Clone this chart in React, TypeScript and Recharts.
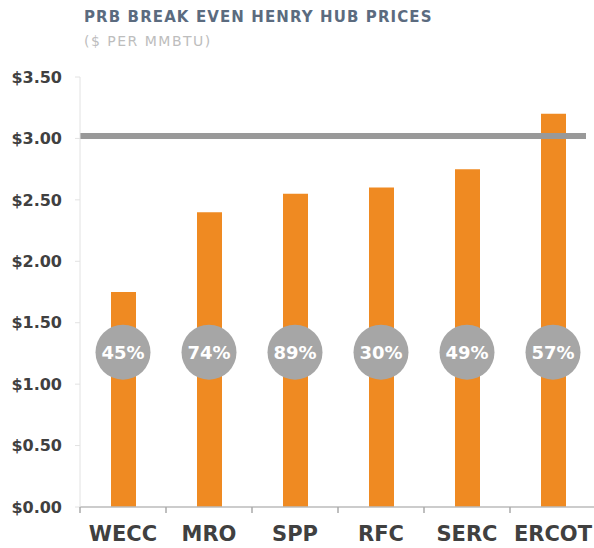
import React from 'react';
import { ComposedChart, Bar, Scatter, XAxis, YAxis, ReferenceLine } from 'recharts';

const regions = ['WECC', 'MRO', 'SPP', 'RFC', 'SERC', 'ERCOT'];
const breakEven = [1.75, 2.4, 2.55, 2.6, 2.75, 3.2];
const shares = ['45%', '74%', '89%', '30%', '49%', '57%'];
const yTicks = [0, 0.5, 1, 1.5, 2, 2.5, 3, 3.5];
const henryHub = 3.02;
const bubbleLevel = 1.26;

const data = regions.map((name, i) => ({
    name,
    price: breakEven[i],
    bubble: bubbleLevel,
    share: shares[i],
}));

const FONT = '"DejaVu Sans", sans-serif';

const RegionTick = (props: any) => {
    const { x, y, payload, index } = props;
    const half = payload?.offset ?? 43;
    return (
        <g>
            <line x1={x - half} x2={x - half} y1={y} y2={y + 6} stroke="#aaaaaa" strokeWidth={1.5} />
            {index === regions.length - 1 && (
                <line x1={x + half} x2={x + half} y1={y} y2={y + 6} stroke="#aaaaaa" strokeWidth={1.5} />
            )}
            <text x={x} y={y + 34} textAnchor="middle" fontFamily={FONT} fontWeight={700} fontSize={21} fill="#404040">
                {payload.value}
            </text>
        </g>
    );
};

const Bubble = (props: any) => {
    const { cx, cy, payload } = props;
    return (
        <g>
            <circle cx={cx} cy={cy} r={27.5} fill="#a6a6a6" />
            <text x={cx} y={cy} dy={6.5} textAnchor="middle" fontFamily={FONT} fontWeight={700} fontSize={18} fill="#ffffff">
                {payload.share}
            </text>
        </g>
    );
};

// the benchmark bar stops a little short of the plot's right edge
const HubLine = (props: any) => (
    <line x1={props.x1} y1={props.y1} x2={props.x2 - 10} y2={props.y2} stroke="#999999" strokeWidth={6} />
);

export default function App() {
    return (
        <div style={{ position: 'absolute', left: 0, top: 0, width: 594, height: 548, overflow: 'hidden', background: '#fff' }}>
            <div style={{ position: 'absolute', left: 84, top: 10, fontFamily: FONT, fontWeight: 700, fontSize: 15, lineHeight: '15px', letterSpacing: 1.1, color: '#5b6b7f', whiteSpace: 'nowrap' }}>
                PRB BREAK EVEN HENRY HUB PRICES
            </div>
            <div style={{ position: 'absolute', left: 84, top: 34, fontFamily: FONT, fontSize: 14, lineHeight: '14px', letterSpacing: 1.5, color: '#bdbdbd', whiteSpace: 'nowrap' }}>
                ($ PER MMBTU)
            </div>
            <ComposedChart width={598} height={548} data={data} margin={{ top: 77, right: 2, left: 0, bottom: 0 }}>
                <XAxis
                    dataKey="name"
                    height={41}
                    axisLine={{ stroke: '#bbbbbb', strokeWidth: 1.5 }}
                    tickLine={false}
                    tickSize={0}
                    tickMargin={0}
                    interval={0}
                    tick={<RegionTick />}
                />
                <YAxis
                    width={80}
                    domain={[0, 3.5]}
                    ticks={yTicks}
                    interval={0}
                    axisLine={{ stroke: '#e2e2e2' }}
                    tickLine={{ stroke: '#e2e2e2' }}
                    tickSize={5}
                    tickMargin={13}
                    tickFormatter={(v: number) => `$${v.toFixed(2)}`}
                    tick={{ fontFamily: FONT, fontWeight: 700, fontSize: 16, fill: '#404040' }}
                />
                <Bar dataKey="price" fill="#ef8a22" barSize={25} isAnimationActive={false} />
                <ReferenceLine y={henryHub} stroke="#999999" strokeWidth={6} shape={<HubLine />} />
                <Scatter dataKey="bubble" shape={<Bubble />} isAnimationActive={false} />
            </ComposedChart>
        </div>
    );
}
